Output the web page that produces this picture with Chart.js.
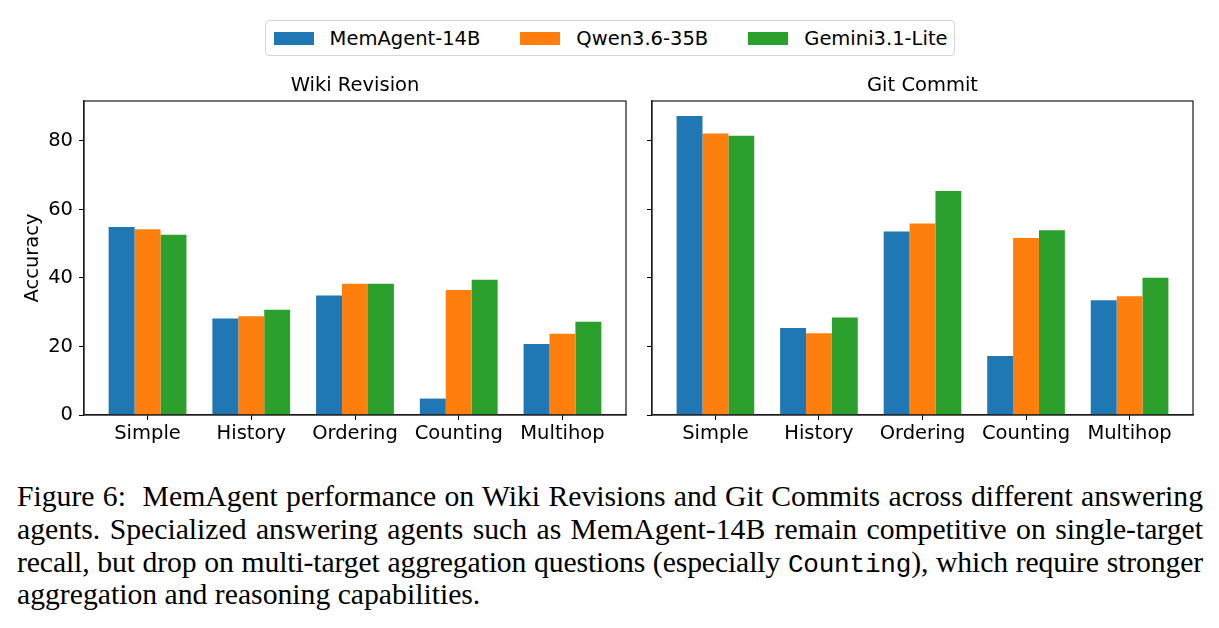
<!DOCTYPE html>
<html>
<head>
<meta charset="utf-8">
<script src="https://cdn.jsdelivr.net/npm/chart.js@4.4.0/dist/chart.umd.min.js"></script>
<style>
  html, body { margin: 0; padding: 0; background: #fff; }
  body { width: 1219px; height: 628px; position: relative; overflow: hidden; }
  canvas { position: absolute; }
  #legend { position: absolute; left: 265px; top: 20px; width: 680px; height: 34px;
    border: 1px solid #d6d6d6; border-radius: 4px; display: flex; align-items: center;
    font-family: "DejaVu Sans", sans-serif; font-size: 19.5px; color: #000; box-sizing: content-box; }
  .item { display: flex; align-items: center; }
  .sw { width: 40px; height: 13px; margin-left: 0; margin-right: 16px; }
  #caption { position: absolute; left: 17px; top: 480px; width: 1186px;
    font-family: "Liberation Serif", "Times New Roman", serif; font-size: 29.7px; color: #000; }
  .ln { height: 32.8px; line-height: 32.8px; text-align: justify; text-align-last: justify; white-space: nowrap; }
  .ln.tight { letter-spacing: -0.12px; word-spacing: -0.5px; }
  .ln.last { text-align-last: left; }
  .mono { font-family: "Liberation Mono", monospace; font-size: 26px; letter-spacing: -0.2px; }
</style>
</head>
<body>
<div id="legend"></div>
<canvas id="left" width="640" height="400" style="left:0;top:70px;width:640px;height:400px"></canvas>
<canvas id="right" width="579" height="400" style="left:640px;top:70px;width:579px;height:400px"></canvas>
<div id="caption">
  <div class="ln">Figure 6:&nbsp; MemAgent performance on Wiki Revisions and Git Commits across different answering</div>
  <div class="ln">agents. Specialized answering agents such as MemAgent-14B remain competitive on single-target</div>
  <div class="ln tight">recall, but drop on multi-target aggregation questions (especially <span class="mono">Counting</span>), which require stronger</div>
  <div class="ln last">aggregation and reasoning capabilities.</div>
</div>
<script>
const categories = ['Simple', 'History', 'Ordering', 'Counting', 'Multihop'];
const seriesNames = ['MemAgent-14B', 'Qwen3.6-35B', 'Gemini3.1-Lite'];
const seriesColors = ['#1f77b4', '#ff7f0e', '#2ca02c'];

const wikiMemAgent = [54.9, 28.2, 34.9, 4.8, 20.7];
const wikiQwen     = [54.2, 28.8, 38.3, 36.5, 23.7];
const wikiGemini   = [52.6, 30.7, 38.3, 39.5, 27.2];

const gitMemAgent = [87.3, 25.4, 53.6, 17.2, 33.5];
const gitQwen     = [82.2, 23.9, 55.9, 51.7, 34.7];
const gitGemini   = [81.5, 28.5, 65.4, 53.9, 40.1];

const yTicks = [0, 20, 40, 60, 80];
const yMax = 91.67;
const xMin = -0.6125, xMax = 4.6125;

// HTML legend from series arrays
const leg = document.getElementById('legend');
leg.style.paddingLeft = '7.6px';
seriesNames.forEach((n, i) => {
  const it = document.createElement('div');
  it.className = 'item';
  it.style.marginRight = i < seriesNames.length - 1 ? '40px' : '0';
  const sw = document.createElement('span');
  sw.className = 'sw';
  sw.style.background = seriesColors[i];
  const tx = document.createElement('span');
  tx.textContent = n;
  it.appendChild(sw); it.appendChild(tx);
  leg.appendChild(it);
});

const framePlugin = {
  id: 'frame',
  afterDatasetsDraw(chart) {
    const a = chart.chartArea, ctx = chart.ctx;
    ctx.save();
    ctx.strokeStyle = '#1a1a1a';
    ctx.lineWidth = 1.2;
    ctx.strokeRect(a.left, a.top, a.right - a.left, a.bottom - a.top);
    ctx.restore();
  }
};

const font = { family: 'DejaVu Sans', size: 19.5 };
Chart.defaults.color = '#000';

function makeChart(id, title, series, yAxisWidth, rightPad, showYLabels) {
  const datasets = series.map((vals, i) => ({
    label: seriesNames[i],
    data: vals.map((v, k) => ({ x: k, y: v })),
    backgroundColor: seriesColors[i],
    borderWidth: 0,
    categoryPercentage: 0.75,
    barPercentage: 1.0
  }));
  return new Chart(document.getElementById(id), {
    type: 'bar',
    data: { datasets },
    plugins: [framePlugin],
    options: {
      responsive: false,
      animation: false,
      devicePixelRatio: 1,
      layout: { padding: { left: 0, right: rightPad, top: 0, bottom: 0 } },
      plugins: {
        legend: { display: false },
        tooltip: { enabled: false },
        title: {
          display: true, text: title, fullSize: false,
          font: { family: 'DejaVu Sans', size: 19.5, weight: 'normal' },
          color: '#000',
          padding: { top: 4, bottom: 3.6 }
        }
      },
      scales: {
        x: {
          type: 'linear',
          offset: false,
          min: xMin, max: xMax,
          afterBuildTicks: (s) => { s.ticks = categories.map((_, i) => ({ value: i })); },
          afterFit: (s) => { s.height = 55; },
          ticks: {
            autoSkip: false, maxRotation: 0, minRotation: 0, padding: 2,
            font, color: '#000',
            callback: (v) => categories[v]
          },
          grid: { drawOnChartArea: false, drawTicks: true, tickLength: 5, color: '#000', lineWidth: 1, offset: false },
          border: { display: true, color: '#1a1a1a', width: 1.2 }
        },
        y: {
          type: 'linear',
          min: 0, max: yMax,
          afterBuildTicks: (s) => { s.ticks = yTicks.map(v => ({ value: v })); },
          afterFit: (s) => { s.width = yAxisWidth; },
          title: {
            display: showYLabels, text: 'Accuracy',
            font, color: '#000', padding: { top: 21, bottom: 0 }
          },
          ticks: {
            padding: 6, font, color: '#000',
            callback: (v) => showYLabels ? String(v) : ''
          },
          grid: { drawOnChartArea: false, drawTicks: true, tickLength: 5, color: '#000', lineWidth: 1 },
          border: { display: true, color: '#1a1a1a', width: 1.2 }
        }
      }
    }
  });
}

makeChart('left', 'Wiki Revision', [wikiMemAgent, wikiQwen, wikiGemini], 84, 14, true);
makeChart('right', 'Git Commit', [gitMemAgent, gitQwen, gitGemini], 12, 26, false);
</script>
</body>
</html>
